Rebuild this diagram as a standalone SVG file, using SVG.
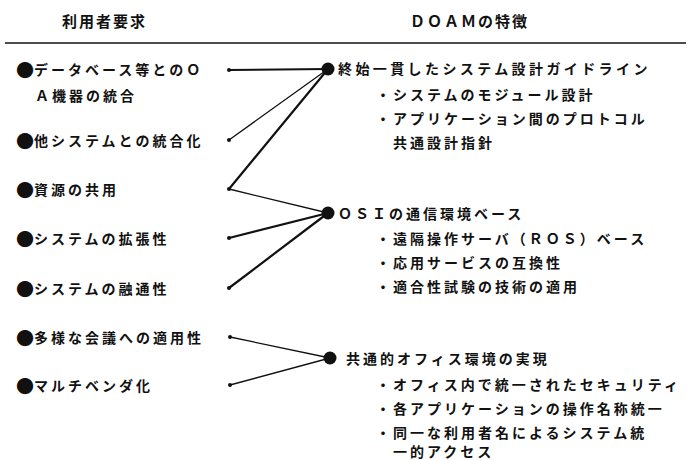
<svg xmlns="http://www.w3.org/2000/svg" width="689" height="460" viewBox="0 0 689 460">
<style>
text{font-family:"Noto Sans CJK JP","Noto Sans CJK SC",sans-serif;font-size:14px;font-weight:700;fill:#111;dominant-baseline:central;letter-spacing:3px}
.h{font-size:15px;letter-spacing:2px}
.f{letter-spacing:3.4px}
.b{font-size:18px;letter-spacing:0}
.c{stroke:#111;fill:none;stroke-linecap:round}
.thin{stroke-width:1.3}
.thick{stroke-width:2.2}
.dot{fill:#111}
</style>
<rect width="689" height="460" fill="#fff"/>
<g id="header">
<text x="62" y="20" class="h">利用者要求</text>
<text x="410" y="20" class="h">ＤＯＡＭの特徴</text>
<line x1="5" y1="43" x2="686" y2="43" stroke="#111" stroke-width="1.5"/>
</g>
<g id="connectors">
<line class="c thick" x1="229" y1="70" x2="328" y2="69"/>
<line class="c thin" x1="229" y1="140" x2="328" y2="69"/>
<line class="c thick" x1="229" y1="189" x2="328" y2="69"/>
<line class="c thin" x1="229" y1="189" x2="328" y2="213"/>
<line class="c thick" x1="229" y1="238" x2="328" y2="213"/>
<line class="c thick" x1="229" y1="288" x2="328" y2="213"/>
<line class="c thin" x1="230" y1="337" x2="330" y2="358"/>
<line class="c thin" x1="230" y1="385" x2="330" y2="358"/>
<circle class="dot" cx="229" cy="70" r="2"/>
<circle class="dot" cx="229" cy="140" r="2"/>
<circle class="dot" cx="229" cy="189" r="2"/>
<circle class="dot" cx="229" cy="238" r="2"/>
<circle class="dot" cx="229" cy="288" r="2"/>
<circle class="dot" cx="230" cy="337" r="2"/>
<circle class="dot" cx="230" cy="385" r="2"/>
</g>
<g id="req1"><text x="16" y="69"><tspan class="b">●</tspan>データベース等とのＯ</text><text x="35" y="95">Ａ機器の統合</text></g>
<g id="req2"><text x="16" y="140"><tspan class="b">●</tspan>他システムとの統合化</text></g>
<g id="req3"><text x="16" y="189"><tspan class="b">●</tspan>資源の共用</text></g>
<g id="req4"><text x="16" y="238"><tspan class="b">●</tspan>システムの拡張性</text></g>
<g id="req5"><text x="16" y="288"><tspan class="b">●</tspan>システムの融通性</text></g>
<g id="req6"><text x="16" y="337"><tspan class="b">●</tspan>多様な会議への適用性</text></g>
<g id="req7"><text x="16" y="385"><tspan class="b">●</tspan>マルチベンダ化</text></g>
<g id="feat1">
<circle class="dot" cx="328" cy="69" r="6.5"/>
<text x="338" y="68" class="f">終始一貫したシステム設計ガイドライン</text>
<text x="376" y="94">・システムのモジュール設計</text>
<text x="376" y="118">・アプリケーション間のプロトコル</text>
<text x="393" y="142">共通設計指針</text>
</g>
<g id="feat2">
<circle class="dot" cx="328" cy="213" r="6.5"/>
<text x="338" y="213">ＯＳＩの通信環境ベース</text>
<text x="376" y="238">・遠隔操作サーバ（ＲＯＳ）ベース</text>
<text x="376" y="262">・応用サービスの互換性</text>
<text x="376" y="286">・適合性試験の技術の適用</text>
</g>
<g id="feat3">
<circle class="dot" cx="330" cy="358" r="6.5"/>
<text x="346" y="358">共通的オフィス環境の実現</text>
<text x="376" y="384">・オフィス内で統一されたセキュリティ</text>
<text x="376" y="408">・各アプリケーションの操作名称統一</text>
<text x="376" y="432">・同一な利用者名によるシステム統</text>
<text x="393" y="451">一的アクセス</text>
</g>
</svg>
